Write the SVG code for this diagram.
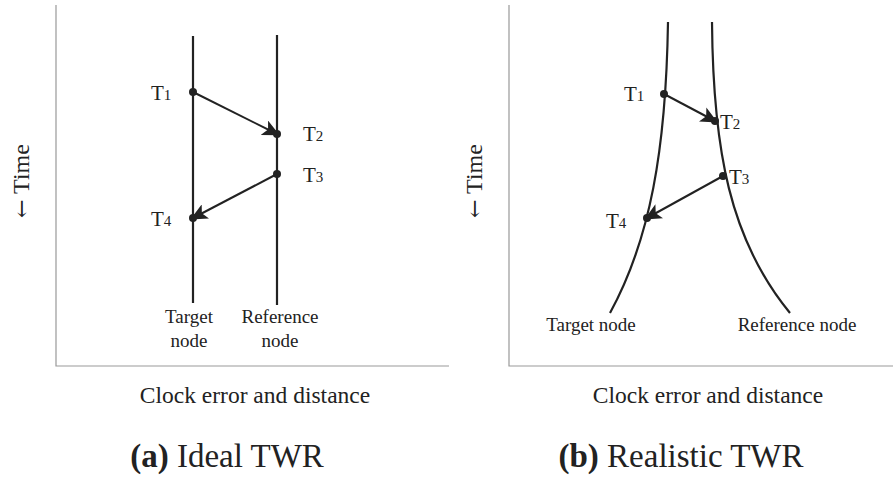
<svg xmlns="http://www.w3.org/2000/svg" width="895" height="477" viewBox="0 0 895 477">
<style>
.ax{stroke:#999;stroke-width:1.2;fill:none}
.ln{stroke:#222;stroke-width:2.2;fill:none}
.msg{stroke:#222;stroke-width:2;fill:none}
.dot{fill:#222}
.t{font-family:"Liberation Serif","Times New Roman",serif;fill:#222}
.lab{font-size:21px}
.sub{font-size:15px}
.nm{font-size:19px}
.cap{font-size:23.5px}
.ttl{font-size:33px}
.tm{font-size:24px}
.arw{font-family:"DejaVu Serif","DejaVu Sans",serif;font-size:22px;fill:#222}
</style>
<defs>
<marker id="ah" markerUnits="userSpaceOnUse" markerWidth="18" markerHeight="16" refX="14" refY="8" orient="auto">
<path d="M0,0 L17,8 L0,16 L4,8 Z" fill="#222"/>
</marker>
</defs>
<rect width="895" height="477" fill="#fff"/>
<g id="axes-a">
<path class="ax" d="M56,5 V366 H449"/>
</g>
<g id="axes-b">
<path class="ax" d="M509,5 V366 H893"/>
</g>
<g id="target-a">
<line class="ln" x1="193" y1="36" x2="193" y2="303"/>
<text class="t nm" x="189" y="323" text-anchor="middle">Target</text>
<text class="t nm" x="189" y="347" text-anchor="middle">node</text>
</g>
<g id="reference-a">
<line class="ln" x1="277" y1="35" x2="277" y2="305"/>
<text class="t nm" x="280" y="323" text-anchor="middle">Reference</text>
<text class="t nm" x="280" y="347" text-anchor="middle">node</text>
</g>
<g id="target-b">
<path class="ln" d="M668,22 C666,150 650,240 610,313"/>
<text class="t nm" x="591" y="331" text-anchor="middle">Target node</text>
</g>
<g id="reference-b">
<path class="ln" d="M712,22 C713,150 730,240 790,313"/>
<text class="t nm" x="797" y="331" text-anchor="middle">Reference node</text>
</g>
<g id="connectors">
<line class="msg" x1="193" y1="92" x2="277" y2="134" marker-end="url(#ah)"/>
<line class="msg" x1="277" y1="174" x2="193" y2="218" marker-end="url(#ah)"/>
<line class="msg" x1="664" y1="94" x2="715" y2="121" marker-end="url(#ah)"/>
<line class="msg" x1="723" y1="176" x2="647" y2="218" marker-end="url(#ah)"/>
</g>
<g id="events-a">
<circle class="dot" cx="193" cy="92" r="4"/>
<circle class="dot" cx="277" cy="134" r="4"/>
<circle class="dot" cx="277" cy="174" r="4"/>
<circle class="dot" cx="193" cy="218" r="4"/>
<text class="t lab" x="151" y="100">T<tspan class="sub">1</tspan></text>
<text class="t lab" x="303" y="141">T<tspan class="sub">2</tspan></text>
<text class="t lab" x="303" y="182">T<tspan class="sub">3</tspan></text>
<text class="t lab" x="151" y="226">T<tspan class="sub">4</tspan></text>
</g>
<g id="events-b">
<circle class="dot" cx="664" cy="94" r="4"/>
<circle class="dot" cx="715" cy="121" r="4"/>
<circle class="dot" cx="723" cy="176" r="4"/>
<circle class="dot" cx="647" cy="218" r="4"/>
<text class="t lab" x="624" y="101">T<tspan class="sub">1</tspan></text>
<text class="t lab" x="720" y="129">T<tspan class="sub">2</tspan></text>
<text class="t lab" x="729" y="184">T<tspan class="sub">3</tspan></text>
<text class="t lab" x="606" y="228">T<tspan class="sub">4</tspan></text>
</g>
<g id="time-a">
<text class="t tm" transform="translate(29,181) rotate(-90)" text-anchor="middle"><tspan class="arw">←</tspan> Time</text>
</g>
<g id="time-b">
<text class="t tm" transform="translate(482,181) rotate(-90)" text-anchor="middle"><tspan class="arw">←</tspan> Time</text>
</g>
<g id="captions">
<text class="t cap" x="255" y="403" text-anchor="middle">Clock error and distance</text>
<text class="t cap" x="708" y="403" text-anchor="middle">Clock error and distance</text>
<text class="t ttl" x="227" y="467" text-anchor="middle"><tspan font-weight="bold">(a)</tspan> Ideal TWR</text>
<text class="t ttl" x="681" y="467" text-anchor="middle"><tspan font-weight="bold">(b)</tspan> Realistic TWR</text>
</g>
</svg>
